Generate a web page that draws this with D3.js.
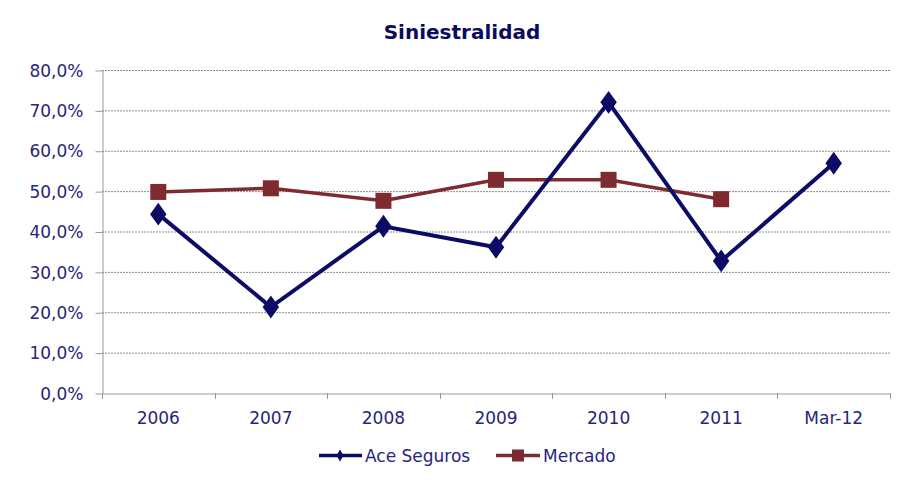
<!DOCTYPE html>
<html><head><meta charset="utf-8">
<script src="https://cdn.jsdelivr.net/npm/d3@7"></script>
<style>body{margin:0;background:#fff}svg{display:block}</style>
</head><body><svg id="c" width="911" height="488"></svg>
<script>
const categories = ["2006","2007","2008","2009","2010","2011","Mar-12"];
const aceSeguros = [44.3, 21.3, 41.3, 36.1, 72.0, 32.7, 56.9];
const mercado = [49.8, 50.7, 47.6, 52.8, 52.8, 48.0, null];
const yTicks = [0,10,20,30,40,50,60,70,80];
const seriesNames = ["Ace Seguros","Mercado"];

const svg = d3.select("#c");
const font = "'DejaVu Sans', Verdana, sans-serif";
const textCol = "#25257c";
const L = 102, R = 890, T = 70, B = 393;
const x = d3.scaleBand().domain(categories).range([L, R]);
const y = d3.scaleLinear().domain([0, 80]).range([B, T]);

svg.append("text").attr("x", 462).attr("y", 39).attr("text-anchor","middle")
  .attr("font-family", font).attr("font-weight","bold").attr("font-size", 20)
  .attr("fill","#0b0b5c").text("Siniestralidad");

// gridlines
svg.append("g").selectAll("line").data(yTicks.filter(d=>d>0)).join("line")
  .attr("x1", L).attr("x2", R).attr("y1", d=>y(d)+0.5).attr("y2", d=>y(d)+0.5)
  .attr("stroke","#8a8a8a").attr("stroke-width",1).attr("stroke-dasharray","2,1");

// y axis
const ya = svg.append("g").attr("transform",`translate(${L+0.5},0)`)
  .call(d3.axisLeft(y).tickValues(yTicks).tickSize(7).tickSizeOuter(0)
    .tickFormat(d => d3.format(".1f")(d).replace(".",",") + "%"));
ya.select(".domain").attr("stroke","#9a9a9a");
ya.selectAll(".tick line").attr("stroke","#9a9a9a").attr("transform","translate(0,0.5)");
ya.selectAll("text").attr("font-family",font).attr("font-size",17).attr("fill",textCol)
  .attr("x",-19).attr("dy","0.36em");

// x axis
const xa = svg.append("g").attr("transform",`translate(0,${B+0.5})`)
  .call(d3.axisBottom(x).tickSize(0).tickSizeOuter(0));
xa.select(".domain").attr("stroke","#9a9a9a");
xa.selectAll("text").attr("font-family",font).attr("font-size",17).attr("fill",textCol)
  .attr("y",30).attr("dy",0);
// category boundary ticks
const bounds = categories.map(c => x(c)).concat([R]);
svg.append("g").selectAll("line").data(bounds).join("line")
  .attr("x1", d=>Math.round(d)+0.5).attr("x2", d=>Math.round(d)+0.5)
  .attr("y1", B).attr("y2", B+6).attr("stroke","#9a9a9a");

const cx = c => x(c) + x.bandwidth()/2;
const aceCol = "#0c0c66", merCol = "#7f2a2e";

// Mercado
const merData = categories.map((c,i)=>({c, v: mercado[i]})).filter(d=>d.v!==null);
svg.append("path").datum(merData)
  .attr("d", d3.line().x(d=>cx(d.c)).y(d=>y(d.v)))
  .attr("fill","none").attr("stroke",merCol).attr("stroke-width",3.5);
svg.append("g").selectAll("rect").data(merData).join("rect")
  .attr("x", d=>cx(d.c)-8).attr("y", d=>y(d.v)-8).attr("width",16).attr("height",16)
  .attr("fill",merCol);

// Ace
const aceData = categories.map((c,i)=>({c, v: aceSeguros[i]}));
svg.append("path").datum(aceData)
  .attr("d", d3.line().x(d=>cx(d.c)).y(d=>y(d.v)))
  .attr("fill","none").attr("stroke",aceCol).attr("stroke-width",4);
const diamond = d3.symbol().type(d3.symbolDiamond).size(150);
svg.append("g").selectAll("path").data(aceData).join("path")
  .attr("transform", d=>`translate(${cx(d.c)},${y(d.v)}) scale(1.25,1)`)
  .attr("d", diamond).attr("fill",aceCol);

// legend
const lg = svg.append("g");
lg.append("line").attr("x1",319).attr("x2",362).attr("y1",455.5).attr("y2",455.5).attr("stroke",aceCol).attr("stroke-width",3.5);
lg.append("path").attr("transform","translate(340,455.5)").attr("d", d3.symbol().type(d3.symbolDiamond).size(40)).attr("fill",aceCol);
lg.append("text").attr("x",365).attr("y",462).attr("font-family",font).attr("font-size",17).attr("fill",textCol).text(seriesNames[0]);
lg.append("line").attr("x1",496).attr("x2",540).attr("y1",455.5).attr("y2",455.5).attr("stroke",merCol).attr("stroke-width",3.5);
lg.append("rect").attr("x",512).attr("y",449.5).attr("width",12).attr("height",12).attr("fill",merCol);
lg.append("text").attr("x",543).attr("y",462).attr("font-family",font).attr("font-size",17).attr("fill",textCol).text(seriesNames[1]);
</script></body></html>
